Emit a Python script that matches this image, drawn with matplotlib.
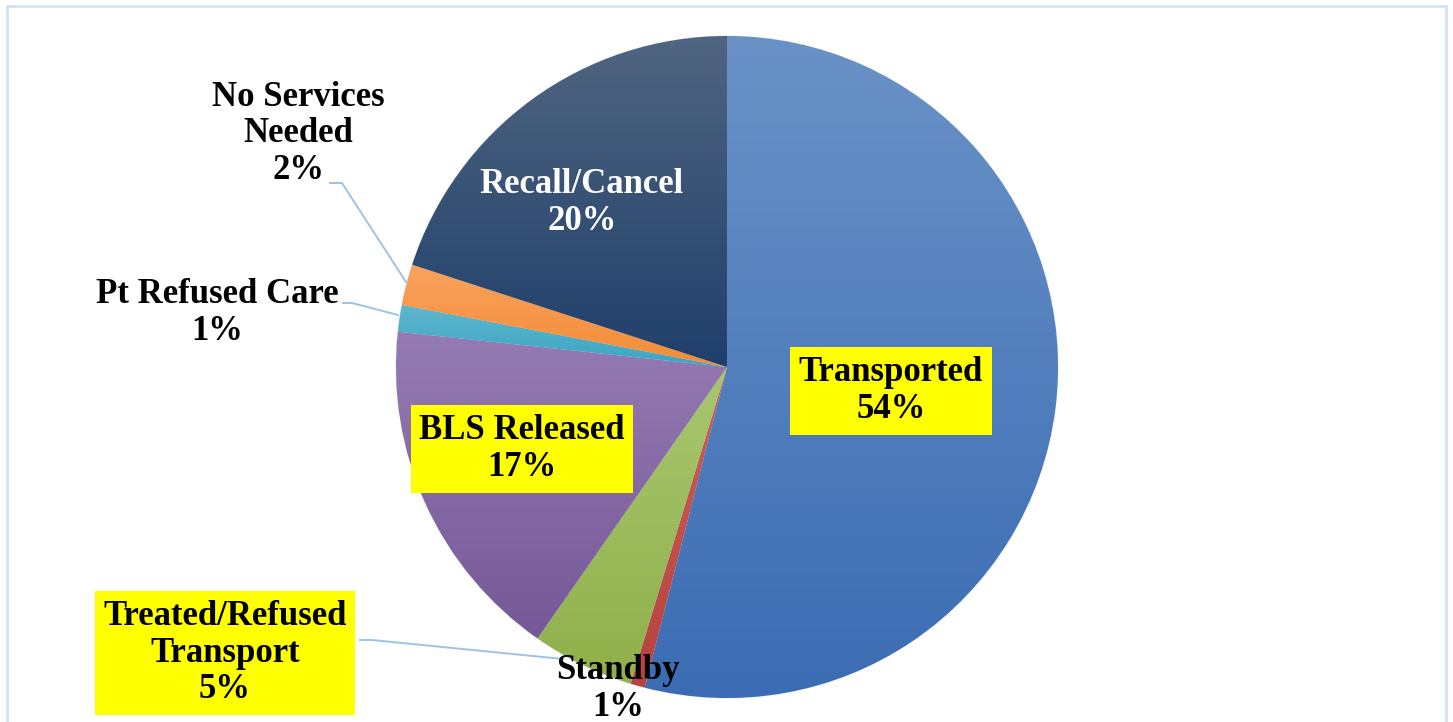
import numpy as np
import matplotlib.pyplot as plt
from matplotlib.colors import LinearSegmentedColormap
from matplotlib.patches import Rectangle

# data
categories = ['Transported', 'Standby', 'Treated/Refused\nTransport', 'BLS Released',
              'Pt Refused Care', 'No Services\nNeeded', 'Recall/Cancel']
shares = [54, 0.7, 5, 17, 1.3, 2, 20]
pct_labels = ['54%', '1%', '5%', '17%', '1%', '2%', '20%']

# gradient colours per slice (top, bottom)
top_colors = ['#6a92c7', '#c9605c', '#a9c66f', '#957bb2', '#5fb6cd', '#f9a25e', '#506580']
bot_colors = ['#3b6cb3', '#b8423f', '#8fb04a', '#765898', '#3aa6c3', '#f48c36', '#1f3f6b']

# label layout in pixel coords (x, y from top), highlight, text colour
label_pos = [(891, 391), (618, 689), (225, 653), (522, 449), (217, 313), (298, 134), (582, 203)]
label_hi = [True, False, True, True, False, False, False]
label_col = ['black', 'black', 'black', 'black', 'black', 'black', 'white']

W, H = 1453, 722
fig = plt.figure(figsize=(W / 100, H / 100), dpi=100)
ax = fig.add_axes([0, 0, 1, 1])

cx, cy, r = 727, H - 367, 331
wedges, _ = ax.pie(shares, center=(cx, cy), radius=r, startangle=90, counterclock=False,
                   wedgeprops=dict(edgecolor='#e4ebf3', linewidth=0.7), frame=True)
ax.set_xlim(0, W)
ax.set_ylim(0, H)
ax.set_aspect('equal')
ax.axis('off')

grad = np.linspace(1, 0, 256)[:, None]
for w, ct, cb in zip(wedges, top_colors, bot_colors):
    v = w.get_path().vertices
    x0, x1 = v[:, 0].min(), v[:, 0].max()
    y0, y1 = v[:, 1].min(), v[:, 1].max()
    cmap = LinearSegmentedColormap.from_list('g', [cb, ct])
    im = ax.imshow(grad, cmap=cmap, extent=(x0, x1, y0, y1), origin='upper',
                   aspect='auto', zorder=w.get_zorder() + 0.1, vmin=0, vmax=1)
    im.set_clip_path(w)
    w.set_facecolor(ct)

ax.set_xlim(0, W)
ax.set_ylim(0, H)

# leader lines
lc = '#9dc3e6'
ax.plot([330, 342, 406], [H - 183, H - 183, H - 282], color=lc, lw=1.4, zorder=5)
ax.plot([343, 352, 398], [H - 303, H - 303, H - 315], color=lc, lw=1.4, zorder=5)
ax.plot([360, 372, 563], [H - 640, H - 640, H - 659], color=lc, lw=1.4, zorder=5)

for cat, pct, (px, py), hi, col in zip(categories, pct_labels, label_pos, label_hi, label_col):
    bbox = dict(boxstyle='square,pad=0.25', facecolor='#ffff00', edgecolor='none') if hi else None
    ax.text(px, H - py, cat + '\n' + pct, ha='center', va='center', fontsize=25,
            fontweight='bold', family='Liberation Serif', color=col, linespacing=1.15,
            bbox=bbox, zorder=6)

# chart area border
fig.patches.append(Rectangle((7, -10), 1439, H - 6 + 10, transform=None, fill=False,
                             edgecolor='#d3e2f3', linewidth=2))

fig.savefig('out.png', dpi=100)
